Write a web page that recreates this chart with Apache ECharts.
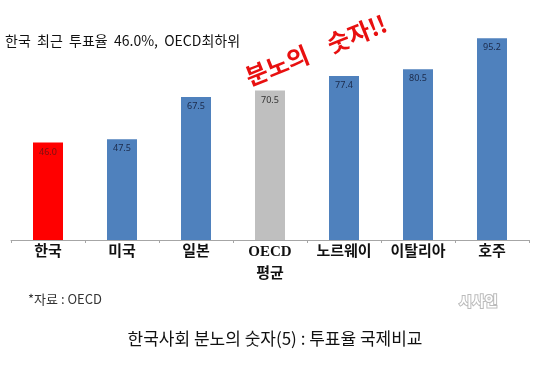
<!DOCTYPE html>
<html><head><meta charset="utf-8">
<script src="https://cdn.jsdelivr.net/npm/echarts@6/dist/echarts.min.js"></script>
<style>html,body{margin:0;padding:0;background:#fff}#c{width:550px;height:371px}</style>
</head><body><div id="c"></div>
<script>
const categories = ['한국', '미국', '일본', 'OECD\n평균', '노르웨이', '이탈리아', '호주'];
const values = [46.0, 47.5, 67.5, 70.5, 77.4, 80.5, 95.2];
const barColors = ['#FF0000', '#4F81BD', '#4F81BD', '#BFBFBF', '#4F81BD', '#4F81BD', '#4F81BD'];
const labelColors = ['#7A1010', '#1B2A4A', '#1B2A4A', '#333333', '#1B2A4A', '#1B2A4A', '#1B2A4A'];
const subtitle = '한국  최근  투표율  46.0%,  OECD최하위';
const stamp = '분노의    숫자!!';
const source = '*자료 : OECD';
const footer = '한국사회 분노의 숫자(5) : 투표율 국제비교';

const chart = echarts.init(document.getElementById('c'));
chart.setOption({
  backgroundColor: '#fff',
  animation: false,
  grid: {left: 11, right: 21, top: 28, bottom: 131},
  xAxis: {
    type: 'category', data: categories,
    axisLine: {lineStyle: {color: '#A6A6A6', width: 1}},
    axisTick: {show: true, length: 3, lineStyle: {color: '#A6A6A6'}},
    axisLabel: {color: '#111', fontSize: 15, fontWeight: 'bold', lineHeight: 22, margin: 1,
      fontFamily: '"Liberation Serif", "Noto Sans CJK KR", serif'}
  },
  yAxis: {type: 'value', min: 0, max: 100, show: false, splitLine: {show: false}},
  series: [{
    type: 'bar', barWidth: 30,
    data: values.map((v, i) => ({value: v, itemStyle: {color: barColors[i]},
      label: {color: labelColors[i]}})),
    label: {show: true, position: 'insideTop', distance: 5, fontSize: 9,
      fontFamily: '"Noto Sans", sans-serif', formatter: p => p.value.toFixed(1)}
  }],
  graphic: [
    {type: 'text', left: 5, top: 34, style: {text: subtitle, fontSize: 14, fill: '#111',
      fontFamily: '"Noto Sans CJK KR", sans-serif'}},
    {type: 'text', x: 316, y: 50, rotation: 0.38, style: {text: stamp, fontSize: 24, fill: '#E81010',
      fontWeight: 'bold', align: 'center', verticalAlign: 'middle',
      fontFamily: '"Noto Sans CJK KR", sans-serif'}},
    {type: 'text', left: 28, top: 293, style: {text: source, fontSize: 13, fill: '#333',
      fontFamily: '"Noto Sans CJK KR", sans-serif'}},
    {type: 'text', left: 458, top: 293, style: {text: '시사인', fontSize: 14, fontWeight: 'bold', fill: '#fff',
      stroke: '#BBBBBB', lineWidth: 2, fontFamily: '"Noto Sans CJK KR", sans-serif'}},
    {type: 'text', left: 'center', top: 330, style: {text: footer, fontSize: 17, fill: '#111',
      fontFamily: '"Noto Sans CJK KR", sans-serif'}}
  ]
});
</script></body></html>
